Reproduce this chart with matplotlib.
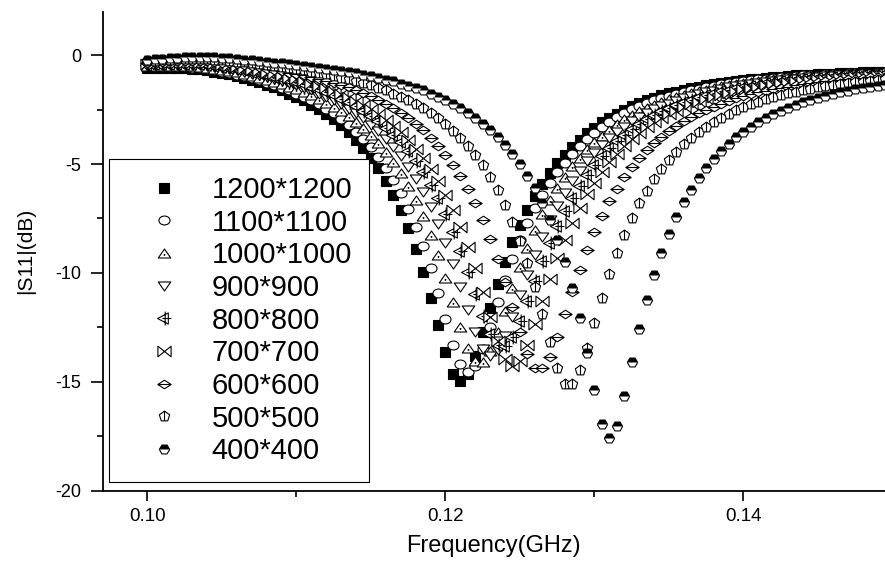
import numpy as np
import matplotlib
matplotlib.use("Agg")
import matplotlib.pyplot as plt
from matplotlib.path import Path
from matplotlib.ticker import MultipleLocator

plt.rcParams['font.family'] = ['Liberation Sans', 'DejaVu Sans']
plt.rcParams['axes.unicode_minus'] = False

# frequency sweep, 0.100 .. 0.150 GHz in 0.5 MHz steps
freq = np.round(np.linspace(0.100, 0.150, 101), 4)

s11_1200 = [-0.58, -0.57, -0.58, -0.58, -0.58, -0.59, -0.62, -0.65, -0.69, -0.75,
            -0.81, -0.88, -0.96, -1.05, -1.15, -1.25, -1.36, -1.48, -1.61, -1.76,
            -1.91, -2.08, -2.27, -2.47, -2.69, -2.93, -3.22, -3.53, -3.88, -4.26,
            -4.70, -5.20, -5.77, -6.41, -7.12, -7.95, -8.90, -9.95, -11.14, -12.39,
            -13.65, -14.63, -14.95, -14.67, -13.83, -12.74, -11.60, -10.49, -9.49, -8.60,
            -7.79, -7.09, -6.46, -5.90, -5.41, -4.96, -4.57, -4.21, -3.89, -3.59,
            -3.33, -3.09, -2.88, -2.68, -2.50, -2.35, -2.20, -2.07, -1.95, -1.85,
            -1.75, -1.67, -1.59, -1.52, -1.45, -1.39, -1.34, -1.28, -1.23, -1.18,
            -1.14, -1.10, -1.07, -1.03, -1.00, -0.98, -0.95, -0.93, -0.90, -0.89,
            -0.87, -0.86, -0.84, -0.82, -0.81, -0.80, -0.79, -0.78, -0.76, -0.76,
            -0.75]

s11_1100 = [-0.55, -0.54, -0.54, -0.54, -0.54, -0.55, -0.57, -0.60, -0.64, -0.69,
            -0.75, -0.81, -0.89, -0.97, -1.06, -1.16, -1.26, -1.37, -1.49, -1.62,
            -1.76, -1.90, -2.08, -2.25, -2.46, -2.67, -2.92, -3.20, -3.51, -3.85,
            -4.23, -4.67, -5.16, -5.72, -6.35, -7.05, -7.87, -8.78, -9.79, -10.92,
            -12.14, -13.30, -14.19, -14.55, -14.26, -13.50, -12.49, -11.36, -10.32, -9.36,
            -8.49, -7.71, -7.02, -6.40, -5.86, -5.36, -4.93, -4.53, -4.18, -3.86,
            -3.57, -3.31, -3.07, -2.86, -2.67, -2.49, -2.34, -2.20, -2.08, -1.96,
            -1.86, -1.76, -1.68, -1.60, -1.53, -1.46, -1.40, -1.34, -1.29, -1.23,
            -1.19, -1.15, -1.11, -1.07, -1.04, -1.02, -0.99, -0.96, -0.93, -0.91,
            -0.90, -0.88, -0.87, -0.85, -0.83, -0.82, -0.81, -0.80, -0.78, -0.77,
            -0.77]

s11_1000 = [-0.51, -0.50, -0.50, -0.49, -0.48, -0.49, -0.51, -0.53, -0.57, -0.62,
            -0.67, -0.72, -0.79, -0.87, -0.95, -1.03, -1.13, -1.23, -1.33, -1.45,
            -1.56, -1.69, -1.84, -2.00, -2.18, -2.36, -2.58, -2.80, -3.06, -3.35,
            -3.67, -4.03, -4.44, -4.89, -5.42, -6.00, -6.66, -7.41, -8.27, -9.20,
            -10.25, -11.35, -12.48, -13.47, -14.07, -14.09, -13.59, -12.73, -11.73, -10.69,
            -9.72, -8.84, -8.03, -7.31, -6.67, -6.09, -5.58, -5.11, -4.70, -4.33,
            -3.99, -3.70, -3.43, -3.18, -2.95, -2.75, -2.57, -2.42, -2.28, -2.15,
            -2.03, -1.92, -1.82, -1.73, -1.65, -1.58, -1.51, -1.43, -1.38, -1.32,
            -1.27, -1.22, -1.18, -1.13, -1.10, -1.07, -1.04, -1.02, -0.98, -0.95,
            -0.93, -0.92, -0.90, -0.88, -0.87, -0.85, -0.84, -0.83, -0.81, -0.80,
            -0.79]

s11_900 = [-0.48, -0.46, -0.45, -0.44, -0.43, -0.43, -0.45, -0.47, -0.50, -0.54,
           -0.59, -0.64, -0.70, -0.77, -0.84, -0.92, -1.00, -1.09, -1.19, -1.29,
           -1.39, -1.50, -1.62, -1.76, -1.91, -2.07, -2.25, -2.45, -2.67, -2.90,
           -3.19, -3.49, -3.84, -4.21, -4.64, -5.12, -5.68, -6.29, -6.98, -7.77,
           -8.65, -9.60, -10.64, -11.72, -12.73, -13.50, -13.80, -13.56, -12.91, -12.02,
           -11.04, -10.08, -9.17, -8.34, -7.59, -6.92, -6.33, -5.79, -5.30, -4.87,
           -4.48, -4.14, -3.82, -3.54, -3.28, -3.04, -2.84, -2.66, -2.49, -2.35,
           -2.22, -2.10, -1.98, -1.88, -1.79, -1.71, -1.63, -1.55, -1.48, -1.41,
           -1.36, -1.31, -1.26, -1.21, -1.17, -1.13, -1.10, -1.07, -1.04, -1.01,
           -0.98, -0.96, -0.94, -0.92, -0.90, -0.89, -0.88, -0.86, -0.84, -0.83,
           -0.82]

s11_800 = [-0.44, -0.42, -0.42, -0.40, -0.39, -0.39, -0.40, -0.41, -0.44, -0.48,
           -0.52, -0.57, -0.63, -0.69, -0.75, -0.82, -0.90, -0.98, -1.05, -1.15,
           -1.24, -1.33, -1.44, -1.55, -1.69, -1.83, -1.99, -2.16, -2.35, -2.55,
           -2.78, -3.04, -3.33, -3.65, -4.00, -4.40, -4.85, -5.36, -5.94, -6.57,
           -7.31, -8.11, -8.99, -9.95, -10.97, -11.98, -12.83, -13.33, -13.35, -12.93,
           -12.19, -11.31, -10.38, -9.47, -8.64, -7.86, -7.17, -6.55, -5.99, -5.49,
           -5.03, -4.63, -4.27, -3.94, -3.65, -3.39, -3.14, -2.93, -2.74, -2.58,
           -2.42, -2.28, -2.16, -2.04, -1.93, -1.83, -1.75, -1.66, -1.59, -1.51,
           -1.45, -1.40, -1.35, -1.29, -1.24, -1.20, -1.16, -1.13, -1.09, -1.06,
           -1.04, -1.01, -0.98, -0.95, -0.94, -0.92, -0.91, -0.90, -0.87, -0.86,
           -0.85]

s11_700 = [-0.41, -0.39, -0.38, -0.37, -0.35, -0.34, -0.35, -0.36, -0.38, -0.42,
           -0.46, -0.50, -0.55, -0.61, -0.67, -0.73, -0.80, -0.87, -0.95, -1.03,
           -1.11, -1.20, -1.30, -1.40, -1.52, -1.64, -1.79, -1.93, -2.11, -2.28,
           -2.49, -2.71, -2.96, -3.25, -3.55, -3.90, -4.29, -4.72, -5.22, -5.78,
           -6.41, -7.11, -7.91, -8.81, -9.79, -10.90, -12.03, -13.12, -13.97, -14.30,
           -14.03, -13.31, -12.35, -11.30, -10.28, -9.33, -8.48, -7.70, -7.01, -6.39,
           -5.85, -5.35, -4.91, -4.52, -4.17, -3.85, -3.56, -3.32, -3.09, -2.89,
           -2.71, -2.54, -2.40, -2.26, -2.14, -2.02, -1.92, -1.81, -1.73, -1.64,
           -1.57, -1.50, -1.44, -1.38, -1.33, -1.28, -1.24, -1.20, -1.15, -1.12,
           -1.09, -1.07, -1.04, -1.00, -0.98, -0.96, -0.95, -0.93, -0.91, -0.90,
           -0.88]

s11_600 = [-0.34, -0.31, -0.30, -0.28, -0.27, -0.26, -0.26, -0.27, -0.28, -0.31,
           -0.34, -0.37, -0.41, -0.46, -0.51, -0.56, -0.62, -0.68, -0.74, -0.80,
           -0.86, -0.93, -1.01, -1.08, -1.18, -1.27, -1.37, -1.48, -1.60, -1.73,
           -1.88, -2.05, -2.23, -2.42, -2.64, -2.87, -3.15, -3.45, -3.79, -4.15,
           -4.57, -5.03, -5.56, -6.15, -6.81, -7.57, -8.43, -9.37, -10.44, -11.55,
           -12.70, -13.73, -14.36, -14.38, -13.85, -12.96, -11.91, -10.87, -9.87, -8.95,
           -8.12, -7.38, -6.72, -6.14, -5.61, -5.14, -4.72, -4.36, -4.03, -3.74,
           -3.48, -3.24, -3.02, -2.83, -2.66, -2.50, -2.36, -2.22, -2.10, -1.98,
           -1.88, -1.79, -1.71, -1.63, -1.56, -1.49, -1.44, -1.39, -1.33, -1.28,
           -1.24, -1.20, -1.17, -1.13, -1.10, -1.08, -1.05, -1.02, -0.99, -0.98,
           -0.96]

s11_500 = [-0.28, -0.25, -0.23, -0.21, -0.19, -0.17, -0.17, -0.17, -0.19, -0.21,
           -0.23, -0.26, -0.29, -0.33, -0.37, -0.41, -0.45, -0.50, -0.55, -0.60,
           -0.65, -0.70, -0.76, -0.81, -0.88, -0.95, -1.03, -1.10, -1.20, -1.29,
           -1.39, -1.50, -1.62, -1.76, -1.91, -2.07, -2.25, -2.44, -2.66, -2.88,
           -3.15, -3.46, -3.79, -4.16, -4.58, -5.05, -5.58, -6.19, -6.87, -7.65,
           -8.53, -9.53, -10.66, -11.89, -13.18, -14.36, -15.10, -15.11, -14.48, -13.46,
           -12.29, -11.14, -10.07, -9.11, -8.25, -7.48, -6.80, -6.22, -5.69, -5.22,
           -4.81, -4.44, -4.10, -3.81, -3.54, -3.30, -3.08, -2.88, -2.71, -2.53,
           -2.39, -2.26, -2.14, -2.02, -1.93, -1.84, -1.75, -1.68, -1.60, -1.53,
           -1.47, -1.42, -1.37, -1.32, -1.28, -1.24, -1.21, -1.18, -1.14, -1.11,
           -1.08]

s11_400 = [-0.21, -0.18, -0.16, -0.13, -0.11, -0.09, -0.08, -0.07, -0.08, -0.10,
           -0.11, -0.13, -0.17, -0.20, -0.24, -0.27, -0.31, -0.34, -0.37, -0.42,
           -0.45, -0.48, -0.53, -0.57, -0.62, -0.66, -0.72, -0.77, -0.83, -0.90,
           -0.97, -1.04, -1.12, -1.20, -1.31, -1.40, -1.51, -1.62, -1.76, -1.90,
           -2.05, -2.24, -2.42, -2.65, -2.88, -3.14, -3.44, -3.77, -4.14, -4.54,
           -5.00, -5.53, -6.12, -6.80, -7.58, -8.48, -9.51, -10.71, -12.09, -13.68,
           -15.40, -16.93, -17.60, -17.02, -15.67, -14.09, -12.58, -11.25, -10.08, -9.07,
           -8.20, -7.43, -6.76, -6.17, -5.65, -5.19, -4.78, -4.41, -4.08, -3.78,
           -3.52, -3.28, -3.07, -2.88, -2.70, -2.55, -2.41, -2.28, -2.15, -2.05,
           -1.95, -1.86, -1.78, -1.70, -1.63, -1.57, -1.51, -1.46, -1.40, -1.36,
           -1.32]

sizes = ["1200*1200", "1100*1100", "1000*1000", "900*900", "800*800",
         "700*700", "600*600", "500*500", "400*400"]
series = [s11_1200, s11_1100, s11_1000, s11_900, s11_800,
          s11_700, s11_600, s11_500, s11_400]


def marker_path(*parts):
    verts, codes = [], []
    for pts, closed in parts:
        verts.append(pts[0])
        codes.append(Path.MOVETO)
        for p in pts[1:]:
            verts.append(p)
            codes.append(Path.LINETO)
        if closed:
            verts.append(pts[0])
            codes.append(Path.CLOSEPOLY)
    return Path(verts, codes)


circ = Path.unit_circle()
ellipse = Path(circ.vertices * np.array([1.0, 0.8]), circ.codes)
dot = [(-0.05, -0.27), (0.05, -0.27), (0.05, -0.17), (-0.05, -0.17)]
tri_up = marker_path(([(0, 0.72), (-1, -0.72), (1, -0.72)], True), (dot, True))
tri_dn = marker_path(([(0, -0.72), (-1, 0.72), (1, 0.72)], True))
tri_cross = marker_path(([(-1, 0), (0.55, 0.8), (0.55, -0.8)], True),
                        ([(0.1, -1.0), (0.1, 1.0)], False),
                        ([(-0.3, 0), (1.0, 0)], False))
bowtie = marker_path(([(-1, 0.8), (1, -0.8), (1, 0.8), (-1, -0.8)], True))
diamond_bar = marker_path(([(-1, 0), (0, 0.65), (1, 0), (0, -0.65)], True),
                          ([(-1, 0), (1, 0)], False))
pent = [(np.cos(np.radians(90 + 72 * k)), np.sin(np.radians(90 + 72 * k)))
        for k in range(5)]
pent_bar = marker_path((pent, True), ([(0, 1), (0, -0.809)], False))

styles = [
    dict(marker='s', ms=6.8, mfc='black'),
    dict(marker=ellipse, ms=8.0, mfc='white'),
    dict(marker=tri_up, ms=9.0, mfc='white'),
    dict(marker=tri_dn, ms=9.0, mfc='white'),
    dict(marker=tri_cross, ms=10.0, mfc='white'),
    dict(marker=bowtie, ms=9.5, mfc='white'),
    dict(marker=diamond_bar, ms=9.5, mfc='white'),
    dict(marker=pent_bar, ms=7.8, mfc='white'),
    dict(marker='H', ms=7.4, mfc='black', fillstyle='top', mfcalt='white'),
]

fig = plt.figure(figsize=(8.85, 5.65), dpi=100)
ax = fig.add_axes([102.7 / 885, 1 - 490.5 / 565, 1 - 102.7 / 885, (490.5 - 11.7) / 565])

for vals, lab, st in zip(series, sizes, styles):
    ax.plot(freq, vals, linestyle='none', mec='black', mew=0.8, label=lab, **st)

ax.set_xlim(0.0970, 0.1495)
ax.set_ylim(-20, 2.0)

for side in ('top', 'right'):
    ax.spines[side].set_visible(False)
for side in ('left', 'bottom'):
    ax.spines[side].set_linewidth(1.3)

ax.xaxis.set_major_locator(MultipleLocator(0.02))
ax.xaxis.set_minor_locator(MultipleLocator(0.01))
ax.yaxis.set_major_locator(MultipleLocator(5))
ax.yaxis.set_minor_locator(MultipleLocator(2.5))
ax.xaxis.set_major_formatter(plt.FuncFormatter(lambda v, p: f"{v:.2f}"))
ax.yaxis.set_major_formatter(plt.FuncFormatter(lambda v, p: f"{v:.0f}"))

ax.tick_params(axis='y', which='major', direction='out', length=8.5, width=1.2,
               labelsize=13, pad=7)
ax.tick_params(axis='y', which='minor', direction='out', length=4.5, width=1.2)
ax.tick_params(axis='x', which='major', direction='out', length=7.5, width=1.2,
               labelsize=13.5, pad=5)
ax.tick_params(axis='x', which='minor', direction='out', length=4, width=1.2)

ax.set_xlabel("Frequency(GHz)", fontsize=17)
ax.set_ylabel("|S11|(dB)", fontsize=15)
ax.xaxis.set_label_coords(0.5, -0.093)
ax.yaxis.set_label_coords(-0.086, 0.5)

leg = ax.legend(loc='upper left', bbox_to_anchor=(109 / 885, 1 - 159 / 565),
                bbox_transform=fig.transFigure, borderaxespad=0,
                fontsize=21, numpoints=1, frameon=True, fancybox=False,
                shadow=False, borderpad=0.58, handlelength=2.64,
                handletextpad=0.29, labelspacing=0.16)
leg.get_frame().set_edgecolor('black')
leg.get_frame().set_linewidth(0.8)
leg.get_frame().set_alpha(1.0)
leg.set_zorder(10)

fig.savefig("out.png", dpi=100)
